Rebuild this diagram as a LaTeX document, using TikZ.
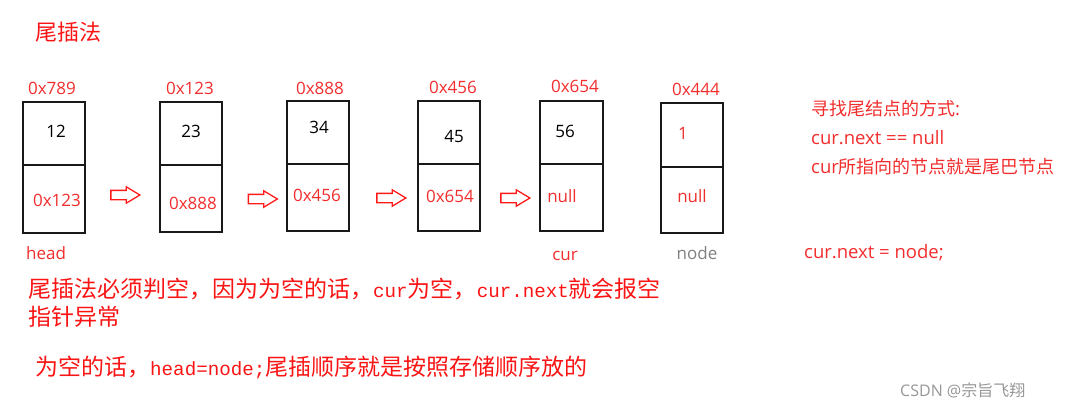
\documentclass[tikz,border=0pt]{standalone}
\usepackage{fontspec}
\setmainfont{Open Sans}
\newfontfamily\cjk{Noto Sans CJK SC}
\newfontfamily\monofam{Liberation Mono}
\usetikzlibrary{shapes.arrows}
\definecolor{lblred}{RGB}{242,45,45}
\definecolor{txtred}{RGB}{250,20,20}
\definecolor{nodegray}{RGB}{128,128,128}
\definecolor{wmgray}{RGB}{150,150,150}
\newcommand{\latmono}[1]{{\monofam\fontsize{19.2}{23}\selectfont #1}}
\newcommand{\notecjk}[1]{{\cjk\fontsize{18}{21}\selectfont #1}}
\begin{document}
\begin{tikzpicture}[x=1pt,y=-1pt,
  cell/.style={draw=black!90, line width=1.7pt, minimum width=62pt, inner sep=0pt},
  addr/.style={text=lblred, inner sep=0pt, font=\fontsize{17}{20}\selectfont},
  val/.style={text=black, inner sep=0pt, font=\fontsize{17}{20}\selectfont},
  ptr/.style={text=lblred, inner sep=0pt, font=\fontsize{17}{20}\selectfont},
  note/.style={text=lblred, inner sep=0pt, anchor=west, font=\fontsize{18.5}{21}\selectfont},
  bigtxt/.style={text=txtred, inner sep=0pt, anchor=west, font=\cjk\fontsize{23}{27}\selectfont},
  hollow/.style={single arrow, draw=red!90, line width=1.3pt, fill=white,
    minimum height=29pt, inner sep=4pt, single arrow head extend=3.5pt,
    single arrow tip angle=62, shape border rotate=0}
]
\useasboundingbox (0,0) rectangle (1068,408);

% title
\node[text=txtred, inner sep=0pt, font=\cjk\fontsize{22}{26}\selectfont] (title) at (68,32) {尾插法};

% boxes
\node[cell, minimum height=63pt] (b1t) at (54,133.5) {};
\node[cell, minimum height=68pt] (b1b) at (54,199) {};
\node[cell, minimum height=63pt] (b2t) at (191,133.5) {};
\node[cell, minimum height=67pt] (b2b) at (191,198.5) {};
\node[cell, minimum height=63pt] (b3t) at (318,132.5) {};
\node[cell, minimum height=67pt] (b3b) at (318,197.5) {};
\node[cell, minimum height=63pt] (b4t) at (449,132.5) {};
\node[cell, minimum height=67pt] (b4b) at (449,197.5) {};
\node[cell, minimum height=63pt, minimum width=63pt] (b5t) at (571.5,132.5) {};
\node[cell, minimum height=67pt, minimum width=63pt] (b5b) at (571.5,197.5) {};
\node[cell, minimum height=64pt] (b6t) at (692,135) {};
\node[cell, minimum height=66pt] (b6b) at (692,200) {};

% addresses
\node[addr] (ad1) at (52,88) {0x789};
\node[addr] (ad2) at (190,88) {0x123};
\node[addr] (ad3) at (320,88) {0x888};
\node[addr] (ad4) at (453,87) {0x456};
\node[addr] (ad5) at (575,86) {0x654};
\node[addr] (ad6) at (696,89) {0x444};

% values
\node[val] (v1) at (56,131) {12};
\node[val] (v2) at (191,131) {23};
\node[val] (v3) at (319,127) {34};
\node[val] (v4) at (454,136) {45};
\node[val] (v5) at (565,131) {56};
\node[ptr] (v6) at (683,133) {1};

% next pointers
\node[ptr] (n1) at (57,200) {0x123};
\node[ptr] (n2) at (193,203) {0x888};
\node[ptr] (n3) at (317,195) {0x456};
\node[ptr] (n4) at (450,196) {0x654};
\node[ptr] (n5) at (562,196) {null};
\node[ptr] (n6) at (692,196) {null};

% arrows
\node[hollow] (a1) at (121.5,195) {};
\node[hollow] (a2) at (259,199) {};
\node[hollow] (a3) at (387.5,198) {};
\node[hollow] (a4) at (511.5,198) {};

% labels under boxes
\node[addr] (lhead) at (46,253) {head};
\node[addr] (lcur) at (565,256) {cur};
\node[addr, text=nodegray] (lnode) at (697,253) {node};

% right notes
\node[note] (r1) at (811,109) {\notecjk{寻找尾结点的方式}:};
\node[note] (r2) at (811,138) {cur.next == null};
\node[note] (r3) at (811,167) {cur\notecjk{所指向的节点就是尾巴节点}};
\node[note] (r4) at (804,253) {cur.next = node;};

% bottom texts
\node[bigtxt] (t1) at (28,289) {尾插法必须判空，因为为空的话，\latmono{cur}为空，\latmono{cur.next}就会报空};
\node[bigtxt] (t2) at (28,317) {指针异常};
\node[bigtxt] (t3) at (35,367) {为空的话，\latmono{head=node;}尾插顺序就是按照存储顺序放的};

% watermark
\node[text=wmgray, inner sep=0pt, anchor=west, font=\fontsize{16}{19}\selectfont] (wm) at (900,390) {CSDN @{\cjk 宗旨飞翔}};
\end{tikzpicture}
\end{document}
